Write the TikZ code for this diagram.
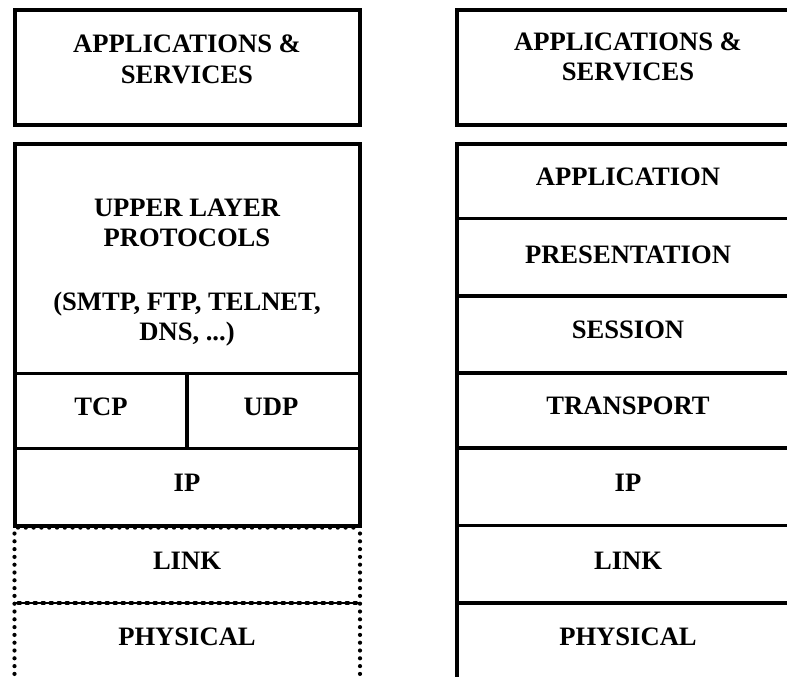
\documentclass[tikz,border=0pt]{standalone}
\usepackage{fontspec}
\setmainfont{Liberation Serif}
\begin{document}
\begin{tikzpicture}[x=1pt,y=-1pt,
  frame/.style={line width=4pt},
  rule/.style={line width=3.8pt},
  dotside/.style={line width=4.2pt, line cap=round, dash pattern=on 0pt off 7.8pt},
  dotrow/.style={line width=4.4pt, line cap=round, dash pattern=on 0pt off 7.8pt},
  dashdot/.style={line width=3.2pt, line cap=round, dash pattern=on 2.5pt off 5.5pt},
  lbl/.style={font=\fontsize{26.6}{30}\selectfont\bfseries, align=center,
              anchor=base, inner sep=0pt}]
\useasboundingbox (0,0) rectangle (787,677);

% ---------- TCP/IP stack (left) ----------
\draw[frame] (14.5,10.3) rectangle (360,125);
\draw[frame] (14.5,143.5) rectangle (360,525.5);
\draw[rule] (14.5,373.5) -- (360,373.5);
\draw[rule] (14.5,448.5) -- (360,448.5);
\draw[rule] (187,373.5) -- (187,448.5);
% link and physical layers: dotted outline
\draw[dotside] (14.5,533.5) -- (14.5,690);
\draw[dotside] (360,533.5) -- (360,690);
\draw[dotrow] (18,527.5) -- (357,527.5);
\draw[line width=1.8pt] (14.5,603) -- (360,603);
\draw[dashdot] (18,603) -- (357,603);

% two-line labels are placed by the baseline of their last line
\node[lbl] (lapps)  at (187,83)  {APPLICATIONS \&\\SERVICES};
\node[lbl] (lupper) at (187,246) {UPPER LAYER\\PROTOCOLS};
\node[lbl] (lproto) at (187,340) {(SMTP, FTP, TELNET,\\DNS, ...)};
\node[lbl] (ltcp)   at (101,415) {TCP};
\node[lbl] (ludp)   at (271,415) {UDP};
\node[lbl] (lip)    at (187,491) {IP};
\node[lbl] (llink)  at (187,569) {LINK};
\node[lbl] (lphys)  at (187,645) {PHYSICAL};

% ---------- OSI stack (right) ----------
\draw[frame] (456.5,10.3) rectangle (800,125);
\draw[frame] (800,143.5) -- (456.5,143.5) -- (456.5,690);
\foreach \y in {218.5,296,373,448,525.5,603}
  \draw[rule] (456.5,\y) -- (800,\y);

\node[lbl] (rapps)  at (628,81)  {APPLICATIONS \&\\SERVICES};
\node[lbl] (rappl)  at (628,185) {APPLICATION};
\node[lbl] (rpres)  at (628,263) {PRESENTATION};
\node[lbl] (rsess)  at (628,338) {SESSION};
\node[lbl] (rtrans) at (628,414) {TRANSPORT};
\node[lbl] (rip)    at (628,491) {IP};
\node[lbl] (rlink)  at (628,569) {LINK};
\node[lbl] (rphys)  at (628,645) {PHYSICAL};
\end{tikzpicture}
\end{document}
